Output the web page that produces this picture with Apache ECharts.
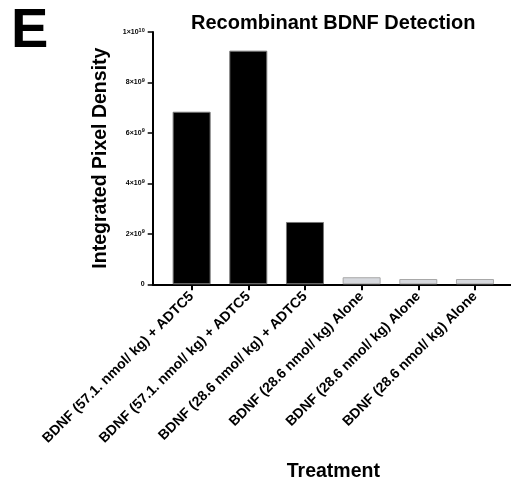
<!DOCTYPE html>
<html>
<head>
<meta charset="utf-8">
<script src="https://cdn.jsdelivr.net/npm/echarts@6/dist/echarts.min.js"></script>
<style>
html,body{margin:0;padding:0;background:#fff;}
#c{width:511px;height:487px;}
</style>
</head>
<body>
<div id="c"></div>
<script>
const categories = [
  'BDNF (57.1. nmol/ kg) + ADTC5',
  'BDNF (57.1. nmol/ kg) + ADTC5',
  'BDNF (28.6 nmol/ kg) + ADTC5',
  'BDNF (28.6 nmol/ kg) Alone',
  'BDNF (28.6 nmol/ kg) Alone',
  'BDNF (28.6 nmol/ kg) Alone'
];
const values = [6.84e9, 9.26e9, 2.47e9, 0.28e9, 0.21e9, 0.21e9];
const barColors = ['#000000', '#000000', '#000000', '#d6d8dd', '#d6d8dd', '#d6d8dd'];
const yMax = 1e10;
const yStep = 2e9;

const FONT = 'Liberation Sans, Arial, sans-serif';
const chart = echarts.init(document.getElementById('c'), null, {renderer: 'canvas'});

function yLabel(v) {
  if (v === 0) return '0';
  const exp = Math.floor(Math.log10(v) + 1e-9);
  const mant = Math.round(v / Math.pow(10, exp));
  return mant + '×10{sup|' + exp + '}';
}

chart.setOption({
  animation: false,
  backgroundColor: '#ffffff',
  title: [
    {text: 'E', left: 6, top: -1, textStyle: {fontFamily: FONT, fontSize: 56, fontWeight: 'bold', color: '#000'}},
    {text: 'Recombinant BDNF Detection', left: 186, top: 8, textStyle: {fontFamily: FONT, fontSize: 20, fontWeight: 'bold', color: '#000'}}
  ],
  grid: [
    {left: 152.7, right: 0, top: 32, bottom: 202.7, containLabel: false},
    {left: 163.3, right: 7.7, top: 32, bottom: 202.7, containLabel: false}
  ],
  xAxis: [
    {
      gridIndex: 0, type: 'category', data: [''],
      axisLine: {show: true, lineStyle: {color: '#000', width: 2}},
      axisTick: {show: false}, axisLabel: {show: false}, splitLine: {show: false}
    },
    {
      gridIndex: 1, type: 'category', data: categories,
      boundaryGap: true,
      axisLine: {show: false},
      axisTick: {show: true, alignWithLabel: true, length: 6, lineStyle: {color: '#000', width: 2}},
      axisLabel: {
        interval: 0, rotate: 45, margin: 10,
        fontFamily: FONT, fontSize: 14, fontWeight: 'bold', color: '#000'
      },
      name: 'Treatment', nameLocation: 'middle', nameGap: 177,
      nameTextStyle: {fontFamily: FONT, fontSize: 19.5, fontWeight: 'bold', color: '#000'}
    }
  ],
  yAxis: [
    {
      gridIndex: 0, type: 'value', min: 0, max: yMax, interval: yStep,
      axisLine: {show: true, lineStyle: {color: '#000', width: 2}},
      axisTick: {show: true, length: 5, lineStyle: {color: '#000', width: 1.5}},
      splitLine: {show: false},
      axisLabel: {
        margin: 8, fontFamily: FONT, fontSize: 7, fontWeight: 'bold', color: '#000',
        formatter: yLabel,
        rich: {sup: {fontFamily: FONT, fontSize: 5.5, fontWeight: 'bold', color: '#000', verticalAlign: 'top', padding: [0, 0, 4, 0]}}
      },
      name: 'Integrated Pixel Density', nameLocation: 'middle', nameGap: 42,
      nameTextStyle: {fontFamily: FONT, fontSize: 19.5, fontWeight: 'bold', color: '#000'}
    },
    {
      gridIndex: 1, type: 'value', min: 0, max: yMax, interval: yStep, show: false
    }
  ],
  series: [{
    type: 'bar',
    xAxisIndex: 1, yAxisIndex: 1,
    barWidth: 38,
    data: values.map((v, i) => ({
      value: v,
      itemStyle: {color: barColors[i], borderColor: i < 3 ? '#777' : '#a8a8a8', borderWidth: 1}
    }))
  }]
});
</script>
</body>
</html>
